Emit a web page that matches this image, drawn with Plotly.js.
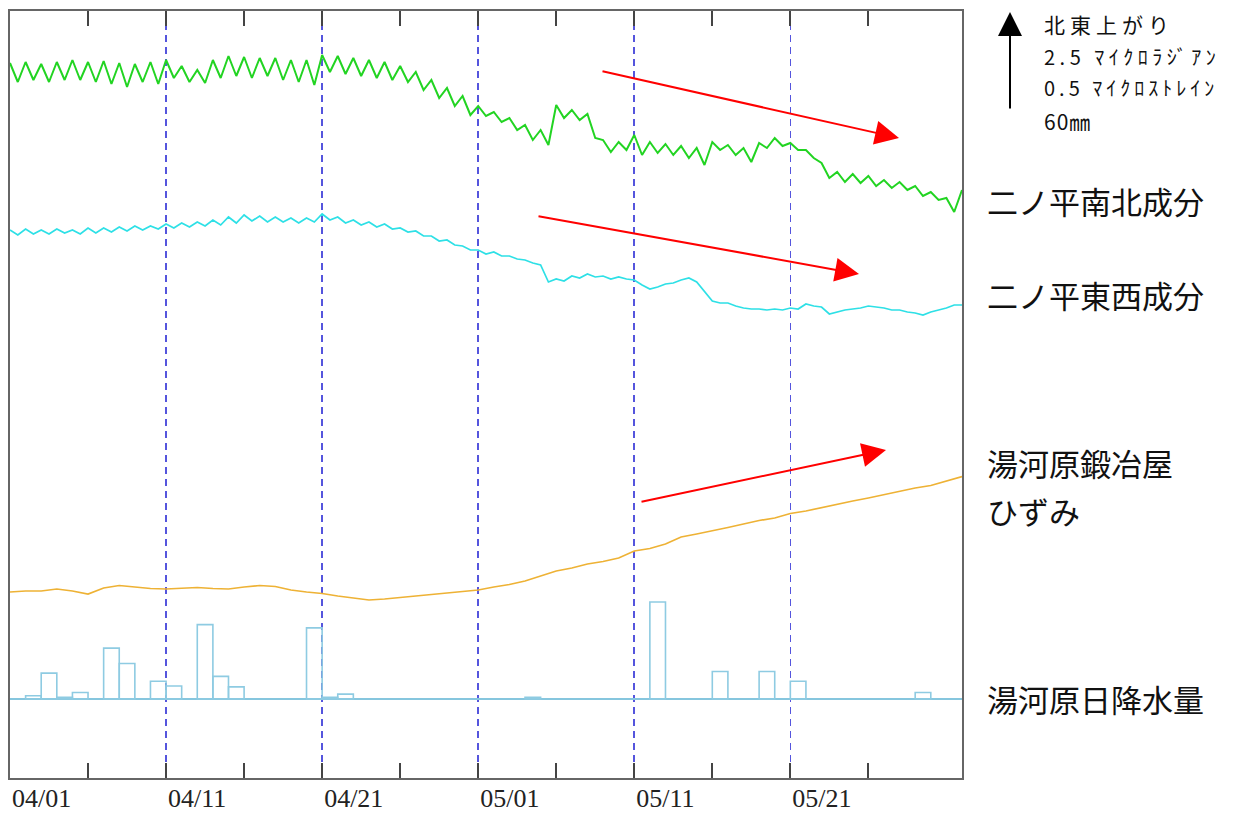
<!DOCTYPE html>
<html>
<head>
<meta charset="utf-8">
<script src="https://cdn.plot.ly/plotly-3.0.1.min.js"></script>
<style>html,body{margin:0;padding:0;background:#fff;}#chart{width:1234px;height:816px;}</style>
</head>
<body>
<div id="chart"></div>
<script>
// ---- Data (arbitrary display units for the tilt/strain traces) ----
const seriesStart = '2015-04-01';
const halfDayMs = 12 * 3600 * 1000;
const dayMs = 24 * 3600 * 1000;

// 二ノ平南北成分 (12-hour samples from 04/01 00:00)
const nsTilt = [
 715,696, 716,698, 714,696, 716,698, 718,698, 716,696, 717,694, 715,691, 714,696, 716,694,
 718,700, 712,696, 708,695, 718,700, 722,702, 721,700, 720,702, 720,698, 718,696, 718,693,
 723,706, 722,704, 720,702, 718,700, 716,698, 712,696, 706,688, 698,680, 690,672, 682,663,
 672,662, 666,656, 660,648, 653,638, 648,633, 673,660, 668,658, 664,640, 638,626, 636,628,
 643,623, 636,625, 634,623, 632,620, 630,613, 636,628, 633,623, 630,616, 635,630, 640,632,
 635,628, 628,620, 615,600, 606,596, 604,595, 602,592, 598,590, 596,588, 592,582, 586,578,
 580,566, 588
];

// 二ノ平東西成分 (12-hour samples from 04/01 00:00)
const ewTilt = [
 548,543, 549,544, 548,544, 549,545, 548,544, 550,545, 550,546, 551,547, 552,548, 552,549,
 554,550, 555,551, 556,552, 558,553, 561,555, 563,557, 562,556, 561,556, 560,555, 560,556,
 564,558, 561,555, 558,553, 556,551, 554,549, 550,546, 547,542, 542,537, 538,533, 532,528,
 528,524, 526,522, 522,519, 518,515, 513,496, 499,497, 502,500, 504,501, 502,499, 501,499,
 498,493, 489,491, 494,495, 498,500, 496,486, 477,475, 475,472, 470,469, 469,468, 469,468,
 470,469, 474,472, 471,464, 466,468, 469,470, 472,471, 470,468, 468,466, 465,463, 466,468,
 470,473, 473
];

// 湯河原鍛冶屋ひずみ (daily samples from 04/01 00:00)
const strain = [
 186,187,187,189,187,184,190,192.5,191,189.5,
 189,190,190.5,189.5,189,191,192.5,191.5,188,186,
 184.5,182,180,178,179,180.5,182,183,184.5,186,
 188,191,193.5,197,202,207,210,214,216.5,220,
 227,229.5,234,241,244,247,250.5,254,257.5,260,
 264.5,267,270.5,274,277,280,283.5,287,290,292.5,
 297,301.5
];

// 湯河原日降水量 (mm/day)
const rainDays = ['2015-04-02','2015-04-03','2015-04-04','2015-04-05','2015-04-07','2015-04-08',
  '2015-04-10','2015-04-11','2015-04-13','2015-04-14','2015-04-15','2015-04-20','2015-04-21',
  '2015-04-22','2015-05-04','2015-05-12','2015-05-16','2015-05-19','2015-05-21','2015-05-29'];
const rainMm = [2,16,1,4,31.5,22,11,8,46,14,7.5,44,1,3,1,60,17,17,11,4];

// Axis ticks
const tickDates = ['2015-04-01','2015-04-06','2015-04-11','2015-04-16','2015-04-21','2015-04-26',
  '2015-05-01','2015-05-06','2015-05-11','2015-05-16','2015-05-21','2015-05-26'];
const tickLabels = ['04/01','','04/11','','04/21','','05/01','','05/11','','05/21',''];
const gridDates = ['2015-04-11','2015-04-21','2015-05-01','2015-05-11','2015-05-21'];

// Scale legend text
const scaleLines = ['北東上がり', '2.5 ﾏｲｸﾛﾗｼﾞｱﾝ', '0.5 ﾏｲｸﾛｽﾄﾚｲﾝ', '60㎜'];

// ---- Build ----
const t0 = new Date(seriesStart + 'T00:00:00Z').getTime();
function stamp(ms){ return new Date(ms).toISOString().slice(0,19).replace('T',' '); }
const xHalf = nsTilt.map((_, i) => stamp(t0 + i * halfDayMs));
const xHalfEW = ewTilt.map((_, i) => stamp(t0 + i * halfDayMs));
const xDay = strain.map((_, i) => stamp(t0 + i * dayMs));
const rainX = rainDays.map(d => d + ' 12:00');

const traces = [
  {x: xHalf, y: nsTilt, type: 'scatter', mode: 'lines', line: {color: '#22d422', width: 2}, hoverinfo: 'skip'},
  {x: xHalfEW, y: ewTilt, type: 'scatter', mode: 'lines', line: {color: '#2ee0e6', width: 1.7}, hoverinfo: 'skip'},
  {x: xDay, y: strain, type: 'scatter', mode: 'lines', line: {color: '#eeb235', width: 1.7}, hoverinfo: 'skip'},
  {x: rainX, y: rainMm, type: 'bar', yaxis: 'y2', width: dayMs,
   marker: {color: 'rgba(0,0,0,0)', line: {color: '#8ecbe2', width: 1.6}}, hoverinfo: 'skip'}
];

// plot box: x 10..962, y 11..778
const L = 10, R = 962, T = 11, B = 778;
const px = X => (X - L) / (R - L);
const py = Y => (B - Y) / (B - T);

const jp = '"Noto Sans CJK JP", "Noto Sans", sans-serif';
function label(text, X, Y, size){
  return {xref: 'paper', yref: 'paper', x: px(X), y: py(Y), xanchor: 'left', yanchor: 'middle',
    text: text, showarrow: false, font: {family: jp, size: size, color: '#111'}};
}
function spaced(s, sp){ return '<span style="letter-spacing:' + sp + 'px">' + s + '</span>'; }
function arrow(headX, headY, tailX, tailY, color, w){
  return {xref: 'paper', yref: 'paper', x: px(headX), y: py(headY), text: '', showarrow: true,
    ax: tailX - headX, ay: tailY - headY, arrowhead: 2, arrowsize: 2.4, arrowwidth: w,
    arrowcolor: color, standoff: 0, startstandoff: 0};
}

const annotations = [
  label(spaced(scaleLines[0], 5), 1042, 24, 21),
  label(spaced(scaleLines[1], 4.5), 1042, 56, 20),
  label(spaced(scaleLines[2], 4), 1042, 88, 20),
  label(spaced(scaleLines[3], 1), 1042, 121, 21),
  label('二ノ平南北成分', 985, 200, 31),
  label('二ノ平東西成分', 985, 294, 31),
  label('湯河原鍛冶屋', 985, 463, 31),
  label('ひずみ', 985, 510, 31),
  label('湯河原日降水量', 985, 698, 31),
  arrow(1010, 12, 1010, 110, '#000', 2),
  arrow(899, 138, 601, 71, '#ff0000', 2),
  arrow(859, 274, 537, 216, '#ff0000', 2),
  arrow(886, 450, 640, 502, '#ff0000', 2)
];

// rain axis: baseline at pixel 699, 60 mm spans 97 px
const rainPerPx = 60 / 97;
const rainLow = -(B - 699) * rainPerPx;
const rainHigh = ((B - T) - (B - 699)) * rainPerPx;

const layout = {
  width: 1234, height: 816,
  margin: {l: L, r: 1234 - R, t: T, b: 816 - B, pad: 0},
  paper_bgcolor: '#fff', plot_bgcolor: '#fff',
  showlegend: false,
  xaxis: {
    type: 'date', range: ['2015-04-01', '2015-06-01'],
    tickmode: 'array', tickvals: tickDates, ticktext: tickLabels,
    ticks: 'inside', ticklen: 15, tickwidth: 2, tickcolor: '#444',
    ticklabelposition: 'outside right', ticklabelstandoff: -4,
    tickfont: {family: '"Liberation Serif", "DejaVu Serif", serif', size: 26, color: '#222'},
    showline: true, mirror: 'ticks', linecolor: '#666', linewidth: 2,
    showgrid: false, zeroline: false,
    minor: {tickmode: 'array', tickvals: gridDates, showgrid: true, gridcolor: '#5555dd',
      gridwidth: 1.6, griddash: '7px,5px', ticks: ''}
  },
  yaxis: {
    range: [0, B - T], showticklabels: false, ticks: '', showgrid: false, zeroline: false,
    showline: true, mirror: true, linecolor: '#666', linewidth: 2, fixedrange: true
  },
  yaxis2: {
    overlaying: 'y', range: [rainLow, rainHigh], showticklabels: false, ticks: '',
    showgrid: false, showline: false, zeroline: true, zerolinecolor: '#86c6de', zerolinewidth: 1.6
  },
  annotations: annotations
};

Plotly.newPlot('chart', traces, layout, {displayModeBar: false, staticPlot: true});
</script>
</body>
</html>
